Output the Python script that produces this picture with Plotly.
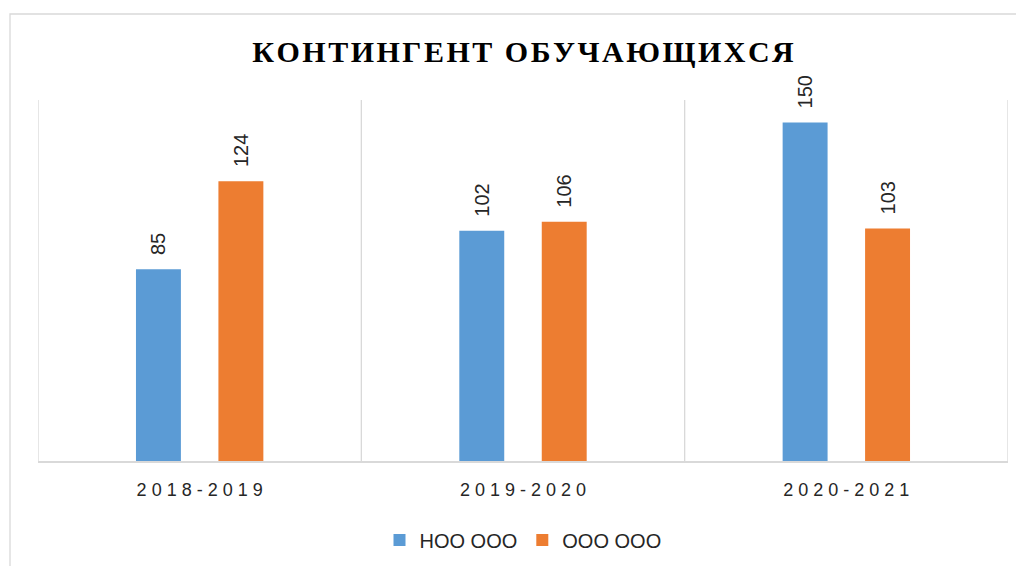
import plotly.graph_objects as go

categories = ["2018-2019", "2019-2020", "2020-2021"]
series_names = ["НОО ООО", "ООО ООО"]
noo_values = [85, 102, 150]
ooo_values = [124, 106, 103]
title_text = "КОНТИНГЕНТ ОБУЧАЮЩИХСЯ"

colors = ["#5B9BD5", "#ED7D31"]
grid_color = "#D9D9D9"

# page body margin offset (browser default 8px)
OFF = 8
W, H = 1024, 566


def spaced(s, sep):
    return sep.join(list(s))


tick_text = [spaced(c, " ") for c in categories]

fig = go.Figure()
for name, vals, col in zip(series_names, [noo_values, ooo_values], colors):
    fig.add_trace(go.Bar(
        name=name,
        x=categories,
        y=vals,
        marker=dict(color=col, line=dict(width=0)),
        text=["\u00a0\u00a0" + str(v) for v in vals],
        textposition="outside",
        textangle=-90,
        textfont=dict(family="Liberation Sans, Arial, sans-serif", size=20, color="#262626"),
        cliponaxis=False,
    ))

plot_left, plot_right, plot_top, plot_bottom = 38 - OFF, 1008 - OFF, 100 - OFF, 461 - OFF
pw = plot_right - plot_left
ph = plot_bottom - plot_top

shapes = []
for i in range(len(categories) + 1):
    shapes.append(dict(type="line", xref="x", yref="paper",
                       x0=i - 0.5, x1=i - 0.5, y0=0, y1=1,
                       line=dict(color=grid_color, width=1.3), layer="below"))
# chart area border (left edge at screen x=10, top at y=14)
bx = ((10 - OFF) - plot_left) / pw
by = (plot_bottom - (14 - OFF)) / ph
shapes.append(dict(type="rect", xref="paper", yref="paper",
                   x0=bx, x1=1.2, y0=-0.6, y1=by,
                   line=dict(color=grid_color, width=1.3), layer="below"))

fig.update_layout(
    width=W, height=H,
    margin=dict(l=plot_left, r=W - plot_right, t=plot_top, b=H - plot_bottom),
    paper_bgcolor="white", plot_bgcolor="white",
    barmode="group", bargap=0.49, bargroupgap=0.455,
    title=dict(
        text=spaced(title_text, "\u200a"),
        font=dict(family="Liberation Serif, Times New Roman, serif", size=30, color="#000000", weight="bold"),
        x=0.5, xref="paper", xanchor="center",
        y=1 - (51 - OFF) / H, yref="container", yanchor="middle",
    ),
    xaxis=dict(
        type="category", range=[-0.5, len(categories) - 0.5],
        tickvals=categories, ticktext=tick_text,
        showgrid=False, showline=True, linecolor=grid_color, linewidth=1.6,
        ticks="", zeroline=False, ticklabelstandoff=12,
        tickfont=dict(family="Liberation Sans, Arial, sans-serif", size=18, color="#262626"),
    ),
    yaxis=dict(range=[0, 160], showgrid=False, showticklabels=False, zeroline=False,
               showline=False, ticks=""),
    legend=dict(orientation="h", x=0.5, xanchor="center", xref="paper",
                y=1 - (540 - OFF) / H, yref="container", yanchor="middle",
                font=dict(family="Liberation Sans, Arial, sans-serif", size=20, color="#262626"),
                traceorder="normal"),
    shapes=shapes,
)

fig.write_html("out.html")
